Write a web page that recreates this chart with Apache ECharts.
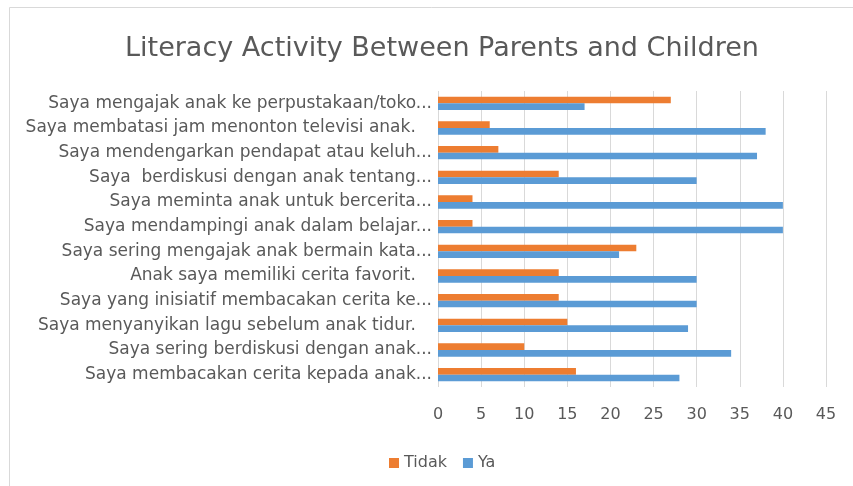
<!DOCTYPE html>
<html>
<head>
<meta charset="utf-8">
<script src="https://cdn.jsdelivr.net/npm/echarts@6/dist/echarts.min.js"></script>
<style>
    html, body { margin: 0; padding: 0; background: #fff; }
    #chart { width: 853px; height: 486px; }
</style>
</head>
<body>
<div id="chart"></div>
<script>
// categories top -> bottom, as in the picture
var categories = [
    'Saya mengajak anak ke perpustakaan/toko...',
    'Saya membatasi jam menonton televisi anak.   ',
    'Saya mendengarkan pendapat atau keluh...',
    'Saya  berdiskusi dengan anak tentang...',
    'Saya meminta anak untuk bercerita...',
    'Saya mendampingi anak dalam belajar...',
    'Saya sering mengajak anak bermain kata...',
    'Anak saya memiliki cerita favorit.   ',
    'Saya yang inisiatif membacakan cerita ke...',
    'Saya menyanyikan lagu sebelum anak tidur.   ',
    'Saya sering berdiskusi dengan anak...',
    'Saya membacakan cerita kepada anak...'
];
var tidak = [27, 6, 7, 14, 4, 4, 23, 14, 14, 15, 10, 16];
var ya = [17, 38, 37, 30, 40, 40, 21, 30, 30, 29, 34, 28];
var xTicks = { min: 0, max: 45, interval: 5 };

var FONT = 'DejaVu Sans';
var GREY = '#595959';

var myChart = echarts.init(document.getElementById('chart'));

var option = {
    animation: false,
    backgroundColor: '#fff',
    title: {
        text: 'Literacy Activity Between Parents and Children',
        left: 120,
        top: 30,
        textStyle: { fontFamily: FONT, fontSize: 27, fontWeight: 'normal', color: GREY }
    },
    legend: {
        data: ['Tidak', 'Ya'],
        left: 384,
        top: 450,
        itemWidth: 10,
        itemHeight: 10,
        itemGap: 16,
        icon: 'rect',
        textStyle: { fontFamily: FONT, fontSize: 16, color: GREY }
    },
    grid: { left: 438, right: 27, top: 91, bottom: 99 },
    xAxis: {
        type: 'value',
        min: xTicks.min,
        max: xTicks.max,
        interval: xTicks.interval,
        axisLine: { show: false },
        axisTick: { show: false },
        axisLabel: { fontFamily: FONT, fontSize: 16, color: GREY, margin: 20 },
        splitLine: { lineStyle: { color: '#d9d9d9' } }
    },
    yAxis: {
        type: 'category',
        inverse: true,
        data: categories,
        axisLine: { show: false },
        axisTick: { show: false },
        axisLabel: { fontFamily: FONT, fontSize: 17, color: GREY, margin: 6 }
    },
    series: [
        {
            name: 'Tidak',
            type: 'bar',
            data: tidak,
            barGap: '0%',
            barCategoryGap: '46%',
            itemStyle: { color: '#ED7D31' }
        },
        {
            name: 'Ya',
            type: 'bar',
            data: ya,
            itemStyle: { color: '#5B9BD5' }
        }
    ],
    graphic: [
        // outer frame of the chart area
        { type: 'line', shape: { x1: 9.5, y1: 7.5, x2: 853, y2: 7.5 }, style: { stroke: '#d9d9d9', lineWidth: 1 } },
        { type: 'line', shape: { x1: 9.5, y1: 7.5, x2: 9.5, y2: 486 }, style: { stroke: '#d9d9d9', lineWidth: 1 } }
    ]
};

myChart.setOption(option);
</script>
</body>
</html>
